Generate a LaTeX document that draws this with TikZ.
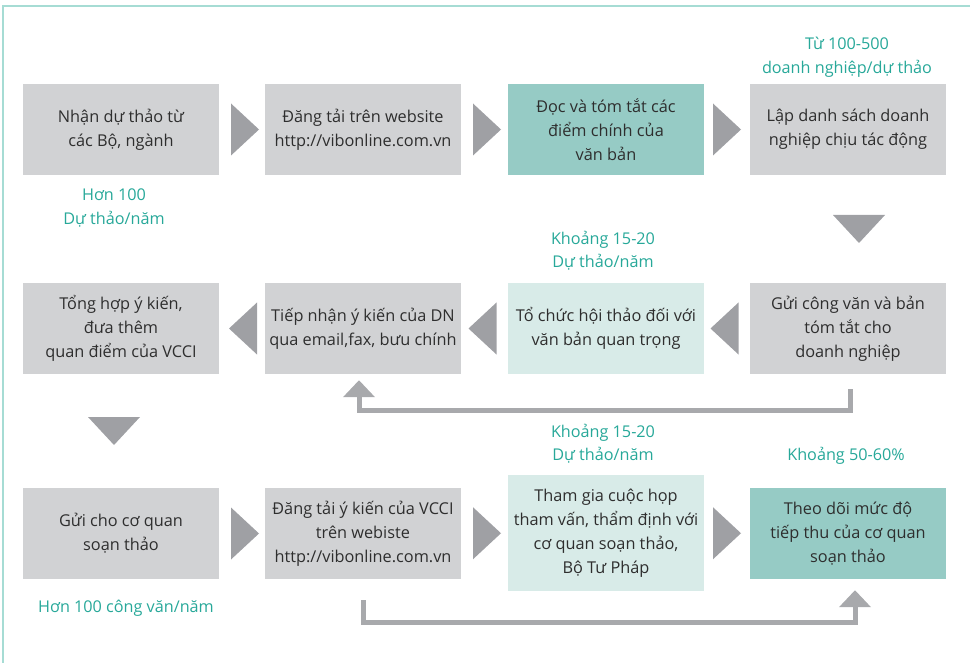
\documentclass[tikz,border=0pt]{standalone}
\usepackage{fontspec}
\setmainfont{Open Sans}
\usetikzlibrary{arrows.meta,calc}
\definecolor{boxgray}{HTML}{D1D2D4}
\definecolor{boxteal}{HTML}{96CBC5}
\definecolor{boxlight}{HTML}{D8EBE8}
\definecolor{textdark}{HTML}{2E2E2E}
\definecolor{labelteal}{HTML}{27A899}
\definecolor{trigray}{HTML}{9FA0A4}
\definecolor{conngray}{HTML}{A8A9AC}
\definecolor{bordercol}{HTML}{A6DCD4}
\newcommand\rtri[3][0]{\fill[tri] ($(#2.east)!0.5!(#3.west)$) ++(#1-14,-26) -- ++(28,26) -- ++(-28,26) -- cycle;}
\newcommand\ltri[3][0]{\fill[tri] ($(#2.east)!0.5!(#3.west)$) ++(#1+14,-26) -- ++(-28,26) -- ++(28,26) -- cycle;}
\newcommand\dtri[3][0]{\fill[tri] ($(#2.south)!0.5!(#3.north)$) ++(#1-26,-14) -- ++(52,0) -- ++(-26,28) -- cycle;}
\begin{document}
\begin{tikzpicture}[x=1pt,y=-1pt,
  box/.style={rectangle, minimum width=196pt, minimum height=91pt, inner sep=0pt,
    align=center, text=textdark, font=\fontsize{16.3}{24}\selectfont},
  graybox/.style={box, fill=boxgray},
  tealbox/.style={box, fill=boxteal},
  lightbox/.style={box, fill=boxlight},
  lbl/.style={align=center, text=labelteal, inner sep=0pt, font=\fontsize{16.2}{23.5}\selectfont},
  tri/.style={fill=trigray},
  conn/.style={draw=conngray, line width=5pt, -{Triangle[width=31pt,length=17pt]}},
  frame/.style={draw=bordercol, line width=2pt}]
\useasboundingbox (0,0) rectangle (970,663);
\draw[frame] (3,663) -- (3,6) -- (970,6);
% row 1
\node[graybox] (a1) at (121,129.5) {Nhận dự thảo từ\\các Bộ, ngành};
\node[graybox] (a2) at (363,129.5) {Đăng tải trên website\\http://vibonline.com.vn};
\node[tealbox] (a3) at (606,129.5) {Đọc và tóm tắt các\\điểm chính của\\văn bản};
\node[graybox] (a4) at (848,129.5) {Lập danh sách doanh\\nghiệp chịu tác động};
% row 2
\node[graybox] (b1) at (121,328.5) {Tổng hợp ý kiến,\\đưa thêm\\quan điểm của VCCI};
\node[graybox] (b2) at (363,328.5) {Tiếp nhận ý kiến của DN\\qua email,fax, bưu chính};
\node[lightbox] (b3) at (606,328.5) {Tổ chức hội thảo đối với\\văn bản quan trọng};
\node[graybox] (b4) at (848,328.5) {Gửi công văn và bản\\tóm tắt cho\\doanh nghiệp};
% row 3
\node[graybox] (c1) at (121,533.5) {Gửi cho cơ quan\\soạn thảo};
\node[graybox] (c2) at (363,533.5) {Đăng tải ý kiến của VCCI\\trên webiste\\http://vibonline.com.vn};
\node[lightbox, minimum height=116pt] (c3) at (606,533) {Tham gia cuộc họp\\tham vấn, thẩm định với\\cơ quan soạn thảo,\\Bộ Tư Pháp};
\node[tealbox] (c4) at (848,533.5) {Theo dõi mức độ\\tiếp thu của cơ quan\\soạn thảo};
% labels
\node[lbl] (l1) at (847,57) {Từ 100-500\\doanh nghiệp/dự thảo};
\node[lbl] (l2) at (114,208) {Hơn 100\\Dự thảo/năm};
\node[lbl] (l3) at (603,251) {Khoảng 15-20\\Dự thảo/năm};
\node[lbl] (l4) at (603,444) {Khoảng 15-20\\Dự thảo/năm};
\node[lbl] (l5) at (846,456) {Khoảng 50-60\%};
\node[lbl] (l6) at (126,608) {Hơn 100 công văn/năm};
% triangles
\rtri[3]{a1}{a2}
\rtri[2.5]{a2}{a3}
\rtri{a3}{a4}
\dtri[11]{a4}{b4}
\ltri[-2.5]{b3}{b4}
\ltri[-2]{b2}{b3}
\ltri[1]{b1}{b2}
\dtri[-7]{b1}{c1}
\rtri[3]{c1}{c2}
\rtri[2.5]{c2}{c3}
\rtri{c3}{c4}
% feedback connectors
\draw[conn] ($(b4.south)+(2,15)$) -- ++(0,21) -| ($(b2.south)+(-4,6)$);
\draw[conn] ($(c2.south)+(0,21)$) -- ++(0,22) -| ($(c4.south)+(7,11)$);
\end{tikzpicture}
\end{document}
